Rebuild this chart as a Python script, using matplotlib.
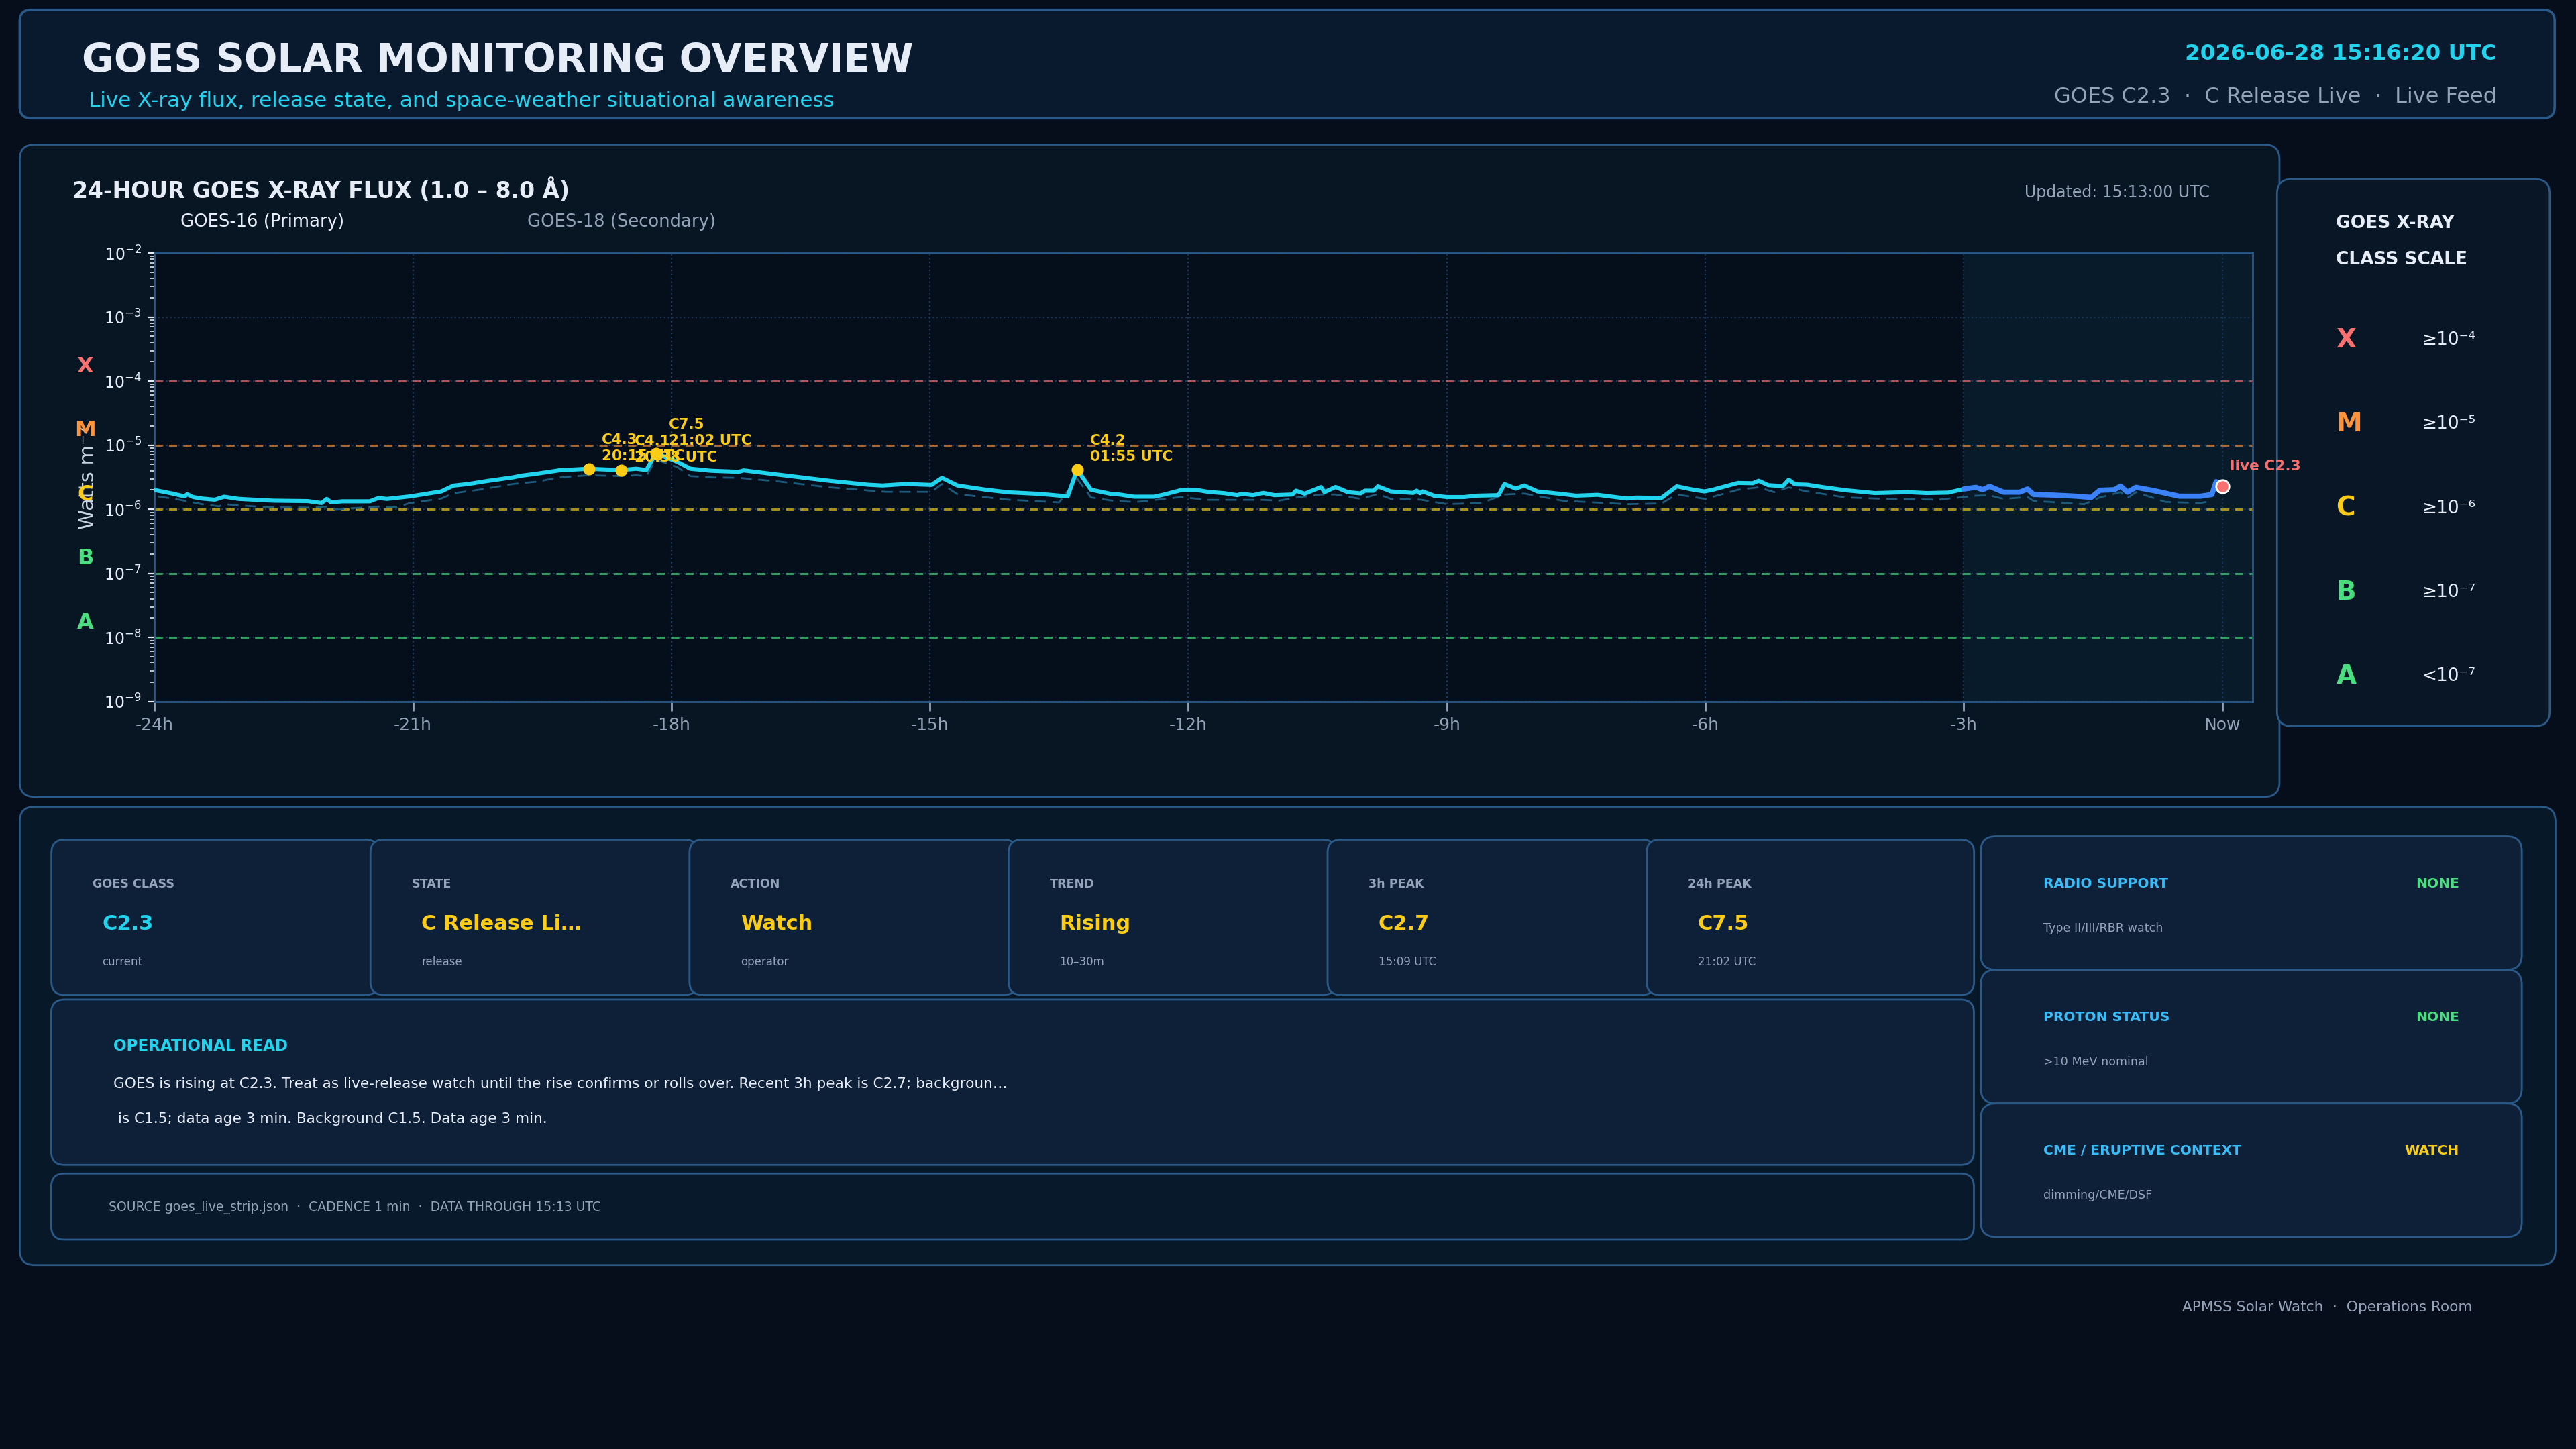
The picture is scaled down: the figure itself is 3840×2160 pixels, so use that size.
import numpy as np
import matplotlib
matplotlib.use('Agg')
import matplotlib.pyplot as plt
from matplotlib.patches import FancyBboxPatch

# GOES-16 (primary) 1-8 A flux, hours before now, flux in units of 1e-6 W m^-2
hours_primary = [-24.00, -23.81, -23.65, -23.62, -23.55, -23.45, -23.30, -23.19, -23.02, -22.62,
                 -22.22, -22.06, -22.00, -21.95, -21.82, -21.50, -21.40, -21.30, -21.03, -20.67,
                 -20.53, -20.34, -20.15, -19.84, -19.74, -19.56, -19.30, -18.96, -18.79, -18.58,
                 -18.41, -18.29, -18.18, -17.93, -17.78, -17.54, -17.22, -17.16, -16.77, -16.17,
                 -15.72, -15.55, -15.28, -14.98, -14.86, -14.68, -14.35, -14.09, -13.73, -13.40,
                 -13.29, -13.13, -12.90, -12.80, -12.63, -12.40, -12.28, -12.08, -11.90, -11.78,
                 -11.58, -11.43, -11.38, -11.25, -11.13, -11.00, -10.79, -10.75, -10.65, -10.46,
                 -10.42, -10.29, -10.15, -10.00, -9.95, -9.85, -9.80, -9.65, -9.39, -9.35,
                 -9.31, -9.28, -9.15, -9.00, -8.80, -8.65, -8.40, -8.33, -8.20, -8.10,
                 -7.95, -7.66, -7.50, -7.25, -6.91, -6.80, -6.51, -6.33, -6.14, -6.01,
                 -5.91, -5.81, -5.62, -5.45, -5.38, -5.27, -5.10, -5.03, -4.96, -4.82,
                 -4.62, -4.37, -4.03, -3.65, -3.43, -3.18, -3.00, -2.86, -2.78, -2.70,
                 -2.54, -2.35, -2.26, -2.19, -1.94, -1.70, -1.52, -1.42, -1.25, -1.18,
                 -1.10, -1.00, -0.79, -0.50, -0.25, -0.12, -0.07, 0.00]
flux_primary = [2.00, 1.78, 1.59, 1.72, 1.55, 1.47, 1.41, 1.57, 1.45, 1.36,
                1.34, 1.25, 1.45, 1.28, 1.33, 1.33, 1.50, 1.45, 1.59, 1.90,
                2.34, 2.50, 2.75, 3.15, 3.35, 3.60, 4.06, 4.30, 4.20, 4.10,
                4.30, 4.10, 7.50, 5.50, 4.30, 4.00, 3.85, 4.05, 3.49, 2.79,
                2.42, 2.35, 2.48, 2.40, 3.10, 2.35, 2.02, 1.84, 1.74, 1.59,
                4.20, 2.02, 1.74, 1.70, 1.57, 1.57, 1.70, 2.00, 2.00, 1.88,
                1.78, 1.66, 1.75, 1.66, 1.80, 1.66, 1.70, 1.95, 1.75, 2.22,
                1.85, 2.23, 1.85, 1.77, 1.95, 1.95, 2.28, 1.90, 1.80, 1.95,
                1.78, 1.90, 1.63, 1.55, 1.55, 1.63, 1.66, 2.48, 2.10, 2.35,
                1.90, 1.73, 1.63, 1.68, 1.47, 1.52, 1.50, 2.28, 2.02, 1.90,
                2.02, 2.20, 2.58, 2.55, 2.79, 2.38, 2.30, 2.90, 2.45, 2.42,
                2.20, 1.98, 1.79, 1.85, 1.79, 1.82, 2.07, 2.20, 2.02, 2.28,
                1.85, 1.85, 2.07, 1.70, 1.66, 1.60, 1.53, 1.98, 2.02, 2.30,
                1.85, 2.20, 1.95, 1.60, 1.60, 1.70, 2.70, 2.30]

# GOES-18 (secondary)
hours_secondary = [-23.96, -23.70, -23.45, -23.25, -23.19, -22.90, -22.62, -22.20, -22.00, -21.90,
                   -21.40, -21.20, -21.03, -20.67, -20.53, -20.20, -19.84, -19.56, -19.30, -18.96,
                   -18.58, -18.41, -18.29, -18.18, -17.93, -17.78, -17.54, -17.22, -16.77, -16.17,
                   -15.50, -14.98, -14.86, -14.68, -14.09, -13.50, -13.29, -13.13, -12.85, -12.60,
                   -12.08, -11.78, -11.13, -10.95, -10.75, -10.46, -10.29, -10.00, -9.80, -9.65,
                   -9.30, -9.00, -8.60, -8.33, -8.10, -7.66, -6.91, -6.51, -6.33, -6.00,
                   -5.62, -5.38, -5.20, -5.03, -4.82, -4.37, -3.90, -3.30, -3.00, -2.86,
                   -2.70, -2.54, -2.26, -2.19, -1.60, -1.42, -1.18, -1.10, -1.00, -0.66,
                   -0.25, -0.12]
flux_secondary = [1.59, 1.40, 1.20, 1.11, 1.20, 1.12, 1.07, 1.06, 1.10, 1.00,
                  1.10, 1.08, 1.25, 1.47, 1.78, 2.05, 2.48, 2.70, 3.15, 3.40,
                  3.30, 3.40, 3.30, 6.00, 4.55, 3.30, 3.15, 3.10, 2.73, 2.20,
                  1.87, 1.87, 2.48, 1.72, 1.41, 1.28, 3.00, 1.53, 1.34, 1.30,
                  1.55, 1.40, 1.40, 1.36, 1.52, 1.70, 1.70, 1.45, 1.73, 1.45,
                  1.41, 1.20, 1.25, 1.70, 1.76, 1.36, 1.20, 1.23, 1.70, 1.45,
                  2.02, 2.20, 1.85, 2.20, 1.90, 1.53, 1.45, 1.41, 1.55, 1.63,
                  1.65, 1.45, 1.55, 1.35, 1.20, 1.53, 1.85, 1.50, 1.85, 1.30,
                  1.25, 1.35]

flare_hours = [-18.96, -18.58, -18.18, -13.29]
flare_flux = [4.3, 4.1, 7.5, 4.2]
flare_class = ['C4.3', 'C4.1', 'C7.5', 'C4.2']
flare_time = ['20:15', '20:38', '21:02', '01:55']
live_hour = 0.0
live_flux = 2.3

class_letters = ['X', 'M', 'C', 'B', 'A']
class_floor = [1e-4, 1e-5, 1e-6, 1e-7, 1e-8]
class_colors = ['#f87171', '#fb923c', '#facc15', '#4ade80', '#4ade80']
class_thresholds = ['≥10⁻⁴', '≥10⁻⁵', '≥10⁻⁶', '≥10⁻⁷', '<10⁻⁷']

tick_hours = [-24, -21, -18, -15, -12, -9, -6, -3, 0]
tick_labels = ['-24h', '-21h', '-18h', '-15h', '-12h', '-9h', '-6h', '-3h', 'Now']

card_labels = ['GOES CLASS', 'STATE', 'ACTION', 'TREND', '3h PEAK', '24h PEAK']
card_values = ['C2.3', 'C Release Li…', 'Watch', 'Rising', 'C2.7', 'C7.5']
card_subs = ['current', 'release', 'operator', '10–30m', '15:09 UTC', '21:02 UTC']
card_colors = ['#22d3ee', '#facc15', '#facc15', '#facc15', '#facc15', '#facc15']

status_titles = ['RADIO SUPPORT', 'PROTON STATUS', 'CME / ERUPTIVE CONTEXT']
status_values = ['NONE', 'NONE', 'WATCH']
status_colors = ['#4ade80', '#4ade80', '#facc15']
status_subs = ['Type II/III/RBR watch', '>10 MeV nominal', 'dimming/CME/DSF']

op_text = ['GOES is rising at C2.3. Treat as live-release watch until the rise confirms or rolls over. Recent 3h peak is C2.7; backgroun…',
           ' is C1.5; data age 3 min. Background C1.5. Data age 3 min.']

# colours
BG = '#060e1c'
EDGE = '#2b5a88'
WHITE = '#e6edf7'
GRAY = '#94a3b8'
CYAN = '#22d3ee'
YELLOW = '#facc15'

plt.rcParams['font.family'] = ['DejaVu Sans']

fig = plt.figure(figsize=(19.2, 10.8), dpi=200, facecolor=BG)

# layout canvas, units = pixels of a 1568 x 882 frame
bg = fig.add_axes([0, 0, 1, 1], zorder=0)
bg.set_xlim(0, 1568)
bg.set_ylim(882, 0)
bg.axis('off')


def panel(x0, y0, x1, y1, fc, r=8, lw=1.0):
    bg.add_patch(FancyBboxPatch((x0, y0), x1 - x0, y1 - y0,
                                boxstyle=f'round,pad=0,rounding_size={r}',
                                fc=fc, ec=EDGE, lw=lw))


def txt(x, y, s, **kw):
    kw.setdefault('va', 'center')
    bg.text(x, y + 1, s, **kw)


# header
panel(12, 6, 1555, 72, '#0a1a2e', r=7, lw=1.3)
txt(50, 36, 'GOES SOLAR MONITORING OVERVIEW', color=WHITE, fontsize=21, fontweight='bold')
txt(54, 60.5, 'Live X-ray flux, release state, and space-weather situational awareness',
    color=CYAN, fontsize=11.2)
txt(1520, 32, '2026-06-28 15:16:20 UTC', color=CYAN, fontsize=11.7,
    fontweight='bold', ha='right')
txt(1520, 58, 'GOES C2.3  ·  C Release Live  ·  Live Feed', color=GRAY,
    fontsize=11.5, ha='right')

# chart panel
panel(12, 88, 1387.5, 485, '#081624', r=9)
txt(44, 115, '24-HOUR GOES X-RAY FLUX (1.0 – 8.0 Å)', color=WHITE, fontsize=11.9,
    fontweight='bold')
txt(110, 134, 'GOES-16 (Primary)', color=WHITE, fontsize=9.3)
txt(321, 134, 'GOES-18 (Secondary)', color=GRAY, fontsize=9.3)
txt(1345, 116, 'Updated: 15:13:00 UTC', color=GRAY, fontsize=8.5, ha='right')

# class scale panel
panel(1386, 109, 1552, 442, '#081626', r=9)
txt(1422, 135, 'GOES X-RAY', color=WHITE, fontsize=9.5, fontweight='bold')
txt(1422, 157, 'CLASS SCALE', color=WHITE, fontsize=9.5, fontweight='bold')
for i, (let, thr, col) in enumerate(zip(class_letters, class_thresholds, class_colors)):
    yy = 206 + 51.2 * i
    txt(1422, yy, let, color=col, fontsize=14, fontweight='bold')
    txt(1474, yy, thr, color=WHITE, fontsize=9.5)

# bottom panel
panel(12, 491, 1555.5, 770, '#071828', r=9)
for i in range(6):
    x0 = 31.3 + 194.2 * i
    panel(x0, 511, x0 + 199.3, 605.6, '#0e1f38', r=8)
    txt(x0 + 25, 537, card_labels[i], color=GRAY, fontsize=6.3, fontweight='bold')
    txt(x0 + 31, 561.5, card_values[i], color=card_colors[i], fontsize=11, fontweight='bold')
    txt(x0 + 31, 584.5, card_subs[i], color=GRAY, fontsize=6)

panel(31.2, 608.4, 1201.5, 709, '#0e1f38', r=8)
txt(69, 636, 'OPERATIONAL READ', color=CYAN, fontsize=8.3, fontweight='bold')
txt(69, 659, op_text[0], color=WHITE, fontsize=7.8)
txt(69, 680, op_text[1], color=WHITE, fontsize=7.8)

panel(31.2, 714.3, 1201.5, 754.6, '#08192c', r=8)
txt(66, 734, 'SOURCE goes_live_strip.json  ·  CADENCE 1 min  ·  DATA THROUGH 15:13 UTC',
    color=GRAY, fontsize=6.8)

for i in range(3):
    y0 = 509 + 81.3 * i
    panel(1205.7, y0, 1535, y0 + 81.3, '#0e1f38', r=9)
    txt(1243.6, y0 + 28, status_titles[i], color='#38bdf8', fontsize=7.3, fontweight='bold')
    txt(1497, y0 + 28, status_values[i], color=status_colors[i], fontsize=7.3,
        fontweight='bold', ha='right')
    txt(1243.6, y0 + 55, status_subs[i], color=GRAY, fontsize=6.3)

txt(1505, 795, 'APMSS Solar Watch  ·  Operations Room', color=GRAY, fontsize=7.8, ha='right')

# ---- flux chart ----
ax = fig.add_axes([94 / 1568, 1 - 427 / 882, 1277 / 1568, 273 / 882], zorder=1)
ax.set_facecolor('#050f1b')
ax.set_yscale('log')
ax.set_ylim(1e-9, 1e-2)
ax.set_xlim(-24, 0.35)
ax.axvspan(-3, 0.35, color='#0a2a3d', alpha=0.45, lw=0, zorder=0)
ax.grid(True, which='major', ls=':', color='#1d3a5c', lw=0.8)
ax.set_axisbelow(True)

for lvl, col in zip(class_floor, class_colors):
    ax.axhline(lvl, color=col, lw=1.1, ls=(0, (4, 3)), alpha=0.65, zorder=1.5)

hp = np.array(hours_primary)
fp = np.array(flux_primary) * 1e-6
hs = np.array(hours_secondary)
fs = np.array(flux_secondary) * 1e-6

ax.plot(hs, fs, color='#1d5b7d', lw=1.0, ls=(0, (6, 3.5)), zorder=2)
old = hp <= -3
new = hp >= -3
ax.plot(hp[old], fp[old], color=CYAN, lw=2.2, zorder=3, solid_capstyle='round')
ax.plot(hp[new], fp[new], color='#3b82f6', lw=2.8, zorder=3, solid_capstyle='round')

for h, f, c, t in zip(flare_hours, flare_flux, flare_class, flare_time):
    ax.plot(h, f * 1e-6, 'o', color=YELLOW, ms=5.5, zorder=4)
    ax.annotate(f'{c}\n{t} UTC', (h, f * 1e-6), xytext=(7, 3), textcoords='offset points',
                color=YELLOW, fontsize=7.7, fontweight='bold', ha='left', va='bottom',
                linespacing=1.25, zorder=5)

ax.plot(live_hour, live_flux * 1e-6, 'o', color='#f87171', mec='white', mew=1.0, ms=7, zorder=6)
ax.annotate(f'live C{live_flux}', (live_hour, live_flux * 1e-6), xytext=(4, 7),
            textcoords='offset points', color='#f87171', fontsize=7.8, fontweight='bold',
            ha='left', va='bottom', annotation_clip=False, zorder=6)

ytr = ax.get_yaxis_transform()
for let, lvl, col in zip(class_letters, class_floor, class_colors):
    ax.text(-0.033, lvl * 1.7, let, transform=ytr, color=col, fontsize=11.5,
            fontweight='bold', ha='center', va='center', clip_on=False)

ax.set_xticks(tick_hours)
ax.set_xticklabels(tick_labels)
ax.tick_params(axis='x', colors=GRAY, labelsize=9, length=5, width=1)
ax.tick_params(axis='y', which='both', colors=WHITE, labelsize=8.5)
ax.set_ylabel('Watts m⁻²', color='#cbd5e1', fontsize=11)
ax.yaxis.set_label_coords(-0.027, 0.5)
for s in ax.spines.values():
    s.set_color(EDGE)
    s.set_linewidth(1.0)

fig.savefig('out.png', dpi=200, facecolor=BG)
